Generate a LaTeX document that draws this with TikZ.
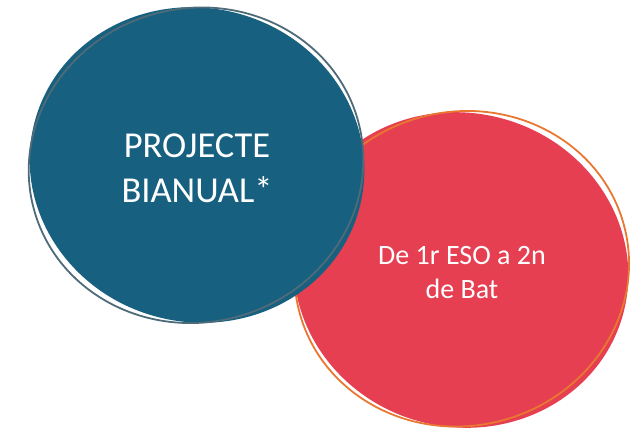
\documentclass[tikz,border=0pt]{standalone}
\usepackage{fontspec}
\setmainfont{Carlito}
\definecolor{bluefill}{HTML}{17607F}
\definecolor{blueline}{HTML}{4D6B78}
\definecolor{redfill}{HTML}{E63F52}
\definecolor{orangeline}{HTML}{E97732}
\tikzset{
  blobtext/.style={text=white, align=center, inner sep=0pt},
}
\begin{document}
\begin{tikzpicture}[x=1pt,y=-1pt]
\useasboundingbox (0,0) rectangle (635,430);
% red circle
\coordinate (rc) at (461,270);
\fill[redfill, rotate around={-15:(rc)}] (rc) ellipse [x radius=168, y radius=157];
\draw[orangeline, line width=1.8pt, rotate around={15:(rc)}] (462,269) ellipse [x radius=168, y radius=157];
% blue circle
\coordinate (bc) at (197,165);
\fill[bluefill, rotate around={-15:(bc)}] (bc) ellipse [x radius=168, y radius=157];
\draw[blueline, line width=1.8pt, rotate around={15:(bc)}] (196,165) ellipse [x radius=168, y radius=157];
% texts
\node[blobtext, font=\fontsize{36.5}{45}\selectfont] (bt) at (197,168) {PROJECTE\\BIANUAL*};
\node[blobtext, font=\fontsize{28}{34}\selectfont] (rt) at (462,273) {De 1r ESO a 2n\\de Bat};
\end{tikzpicture}
\end{document}
